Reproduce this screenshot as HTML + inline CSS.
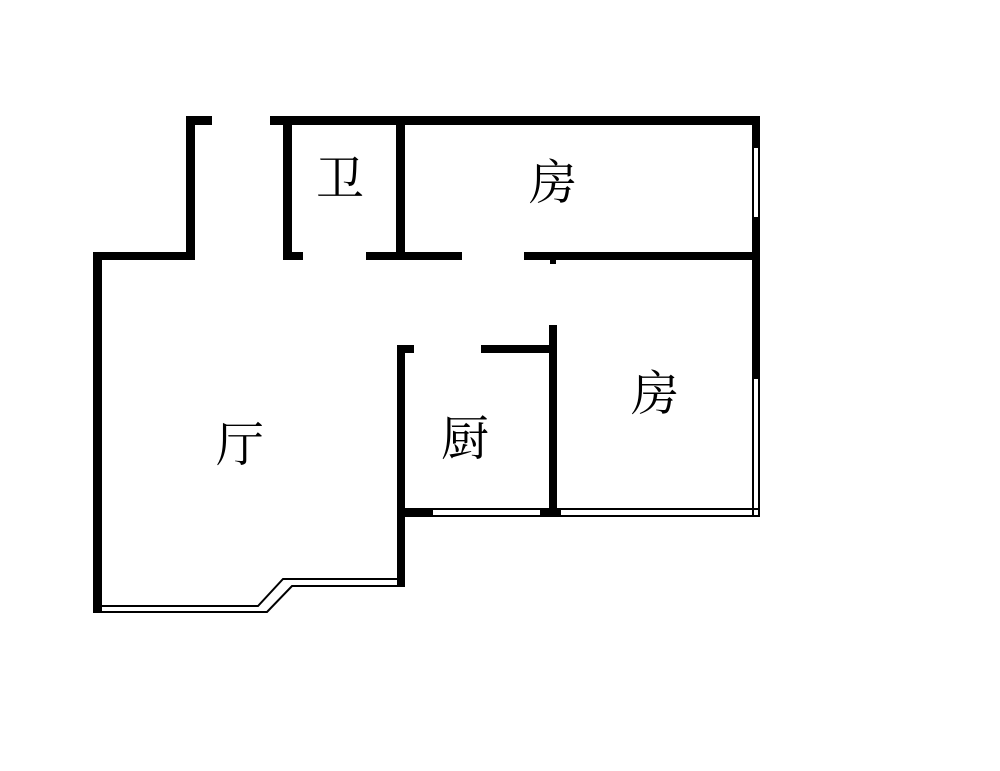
<!DOCTYPE html>
<html><head><meta charset="utf-8"><style>
html,body{margin:0;padding:0;background:#fff;width:1000px;height:771px;overflow:hidden}
text{font-family:"Liberation Serif","Noto Serif CJK SC",serif;font-size:48px;fill:#000}
</style></head><body>
<svg width="1000" height="771" viewBox="0 0 1000 771" xmlns="http://www.w3.org/2000/svg">
<g fill="#000">
<!-- top left stub -->
<rect x="186" y="116" width="26" height="9"/>
<rect x="186" y="116" width="9" height="144"/>
<rect x="93" y="252" width="102" height="8"/>
<rect x="93" y="252" width="9" height="361"/>
<!-- top wall -->
<rect x="270" y="116" width="490" height="9"/>
<!-- bath -->
<rect x="283" y="116" width="9" height="144"/>
<rect x="283" y="252" width="20" height="8"/>
<rect x="396" y="116" width="9" height="144"/>
<rect x="366" y="252" width="96" height="8"/>
<rect x="524" y="252" width="236" height="8"/>
<rect x="550" y="258" width="6" height="6"/>
<!-- right wall -->
<rect x="752" y="116" width="8" height="31"/>
<rect x="752" y="218" width="8" height="160"/>
<!-- kitchen -->
<rect x="397" y="345" width="17" height="8"/>
<rect x="397" y="345" width="8" height="242"/>
<rect x="481" y="345" width="76" height="8"/>
<rect x="549" y="325" width="8" height="192"/>
<rect x="397" y="508" width="35" height="9"/>
<rect x="541" y="508" width="19" height="9"/>
</g>
<g fill="none" stroke="#000" stroke-width="2">
<!-- right windows -->
<rect x="753" y="147" width="6" height="71"/>
<rect x="753" y="378" width="6" height="138"/>
<!-- bottom windows -->
<rect x="432" y="509" width="109" height="7"/>
<rect x="560" y="509" width="199" height="7"/>
<!-- bay window -->
<polyline points="102,606 258,606 283,579 397,579"/>
<polyline points="102,612 267,612 292,586 397,586"/>
</g>
<text x="340" y="195" text-anchor="middle">卫</text>
<text x="553" y="199" text-anchor="middle">房</text>
<text x="655" y="410" text-anchor="middle">房</text>
<text x="240" y="461" text-anchor="middle">厅</text>
<text x="465" y="455" text-anchor="middle">厨</text>
</svg>
</body></html>
